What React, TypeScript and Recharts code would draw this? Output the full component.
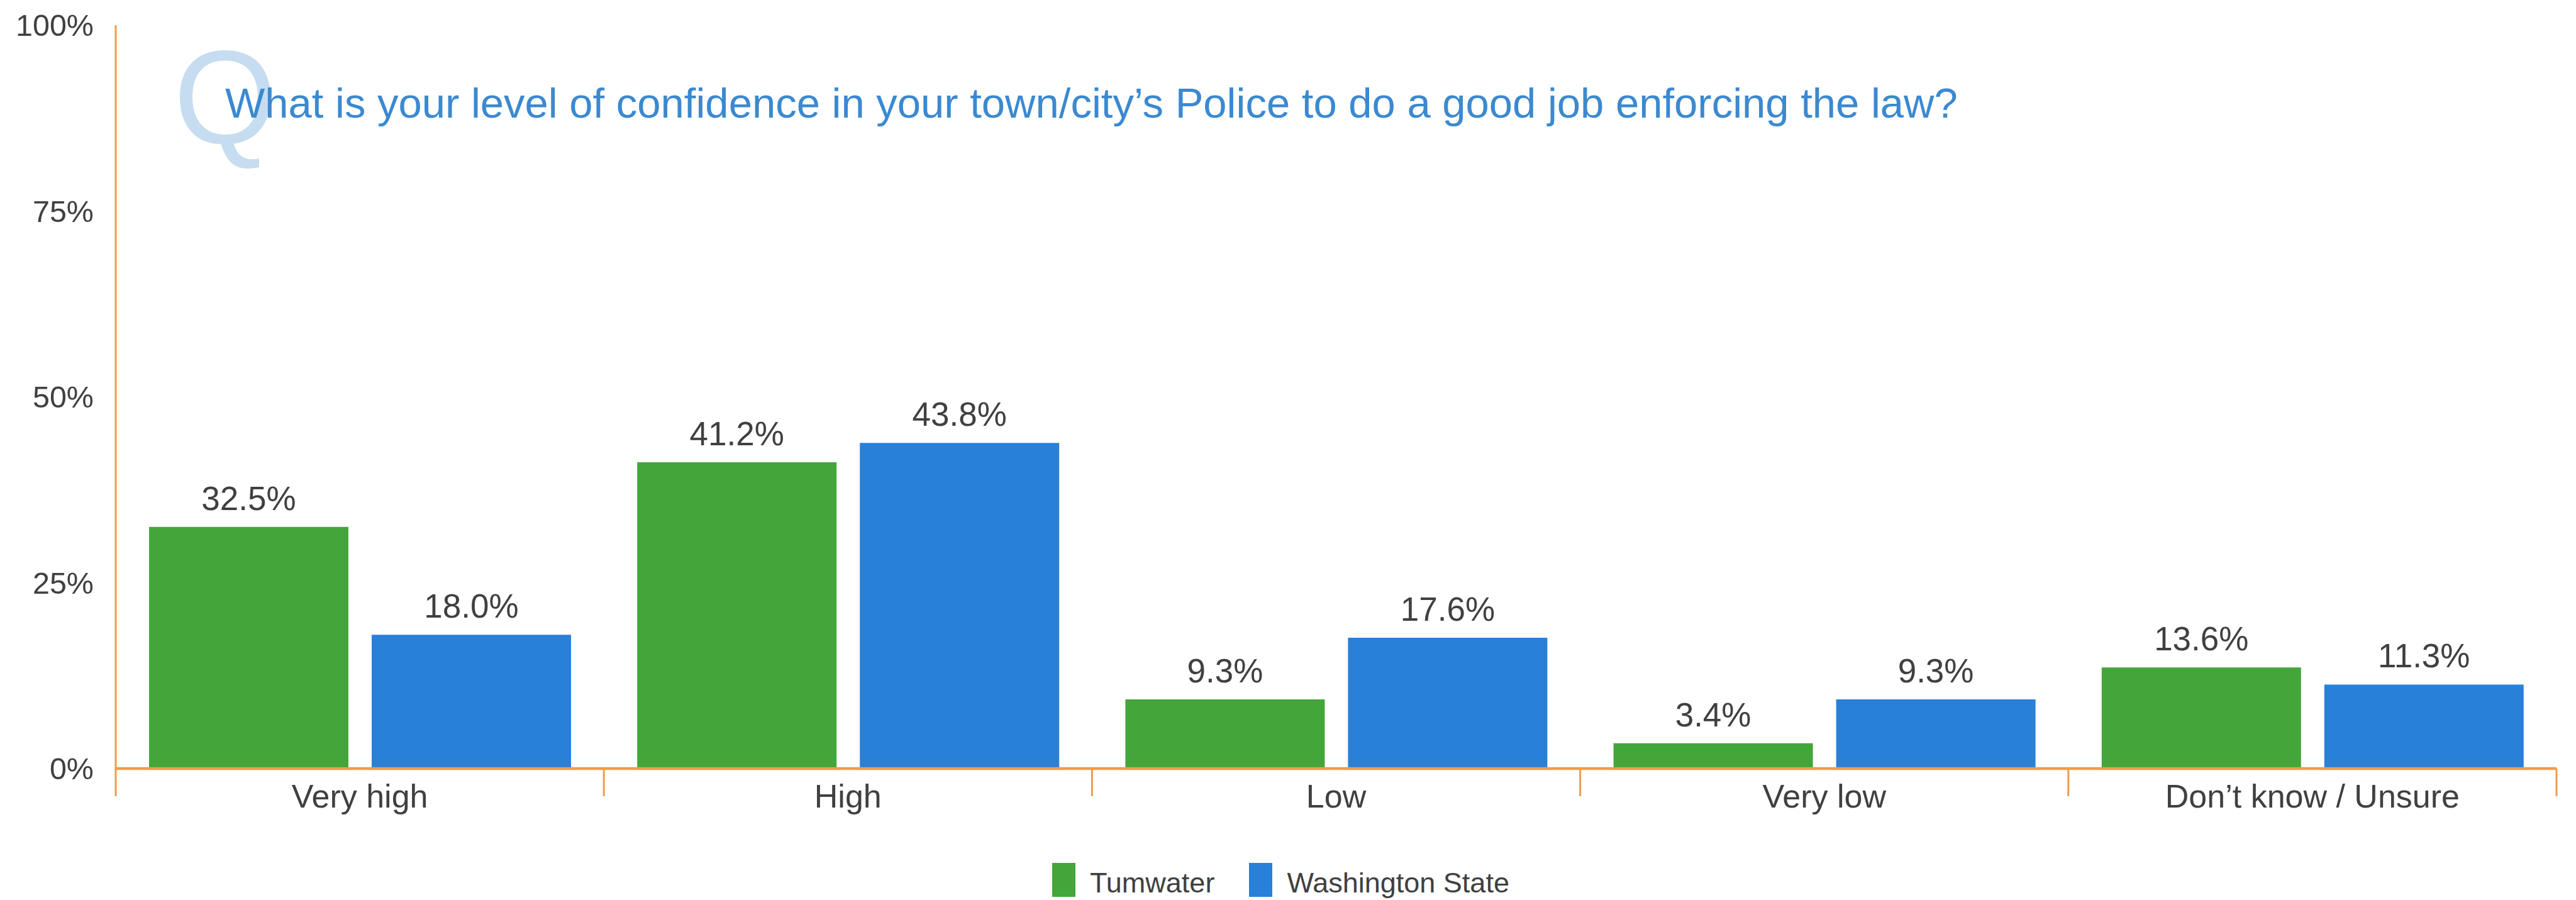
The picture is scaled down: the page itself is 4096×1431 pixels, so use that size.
import { BarChart, Bar, XAxis, YAxis, Legend, LabelList } from "recharts";

const categories = ["Very high", "High", "Low", "Very low", "Don’t know / Unsure"];
const tumwater = [32.5, 41.2, 9.3, 3.4, 13.6];
const washington = [18.0, 43.8, 17.6, 9.3, 11.3];
const yTicks = [0, 25, 50, 75, 100];

const FONT = "'Liberation Sans', Arial, sans-serif";
const ORANGE = "#ef9c4c";
const TEXT = "#404040";
const GREEN = "#43a63b";
const BLUE = "#2980d9";

const W = 4096;
const H = 1431;
const PLOT_LEFT = 184;
const PLOT_RIGHT = 4065;
const BAND = (PLOT_RIGHT - PLOT_LEFT) / categories.length;

const data = categories.map((name, i) => ({
  name,
  tumwater: tumwater[i],
  washington: washington[i],
}));

const XTick = (props: any) => {
  const { x, y, payload, index } = props;
  const last = index === categories.length - 1;
  return (
    <g>
      <line x1={x - BAND / 2} x2={x - BAND / 2} y1={y} y2={y + 44} stroke={ORANGE} strokeWidth={3} />
      {last && (
        <line x1={x + BAND / 2} x2={x + BAND / 2} y1={y} y2={y + 44} stroke={ORANGE} strokeWidth={3} />
      )}
      <text x={x} y={y + 62} textAnchor="middle" fill={TEXT} fontSize={52} fontFamily={FONT}>
        {payload.value}
      </text>
    </g>
  );
};

const valueLabel = (props: any) => {
  const { x, y, width, value } = props;
  return (
    <text x={x + width / 2} y={y - 27} textAnchor="middle" fill={TEXT} fontSize={53} fontFamily={FONT}>
      {Number(value).toFixed(1)}%
    </text>
  );
};

const LegendBox = (props: any) => {
  const items = props.payload || [];
  return (
    <div style={{ display: "flex", alignItems: "flex-end", paddingLeft: 1673, fontFamily: FONT }}>
      {items.map((it: any, i: number) => (
        <div key={i} style={{ display: "flex", alignItems: "flex-end", marginRight: 55 }}>
          <span style={{ display: "inline-block", width: 37, height: 54, background: it.color, marginRight: 23 }} />
          <span style={{ fontSize: 45, lineHeight: "45px", color: TEXT }}>{it.value}</span>
        </div>
      ))}
    </div>
  );
};

export default function App() {
  return (
    <div style={{ position: "absolute", left: 0, top: 0, width: W, height: H, background: "#fff" }}>
      <BarChart
        width={W}
        height={H}
        data={data}
        margin={{ top: 40, right: W - PLOT_RIGHT, left: 0, bottom: H - 1222 - 80 }}
        barCategoryGap={53}
        barGap={37}
      >
        <YAxis
          width={PLOT_LEFT}
          domain={[0, 100]}
          ticks={yTicks}
          tickFormatter={(v) => `${v}%`}
          tickLine={false}
          tickSize={0}
          tickMargin={35}
          axisLine={{ stroke: ORANGE, strokeWidth: 3 }}
          tick={{ fill: TEXT, fontSize: 48.5, fontFamily: FONT }}
        />
        <XAxis
          dataKey="name"
          height={80}
          tickLine={false}
          tickSize={0}
          tickMargin={0}
          interval={0}
          axisLine={{ stroke: ORANGE, strokeWidth: 4.5 }}
          tick={<XTick />}
        />
        <Legend
          verticalAlign="middle"
          layout="horizontal"
          align="center"
          content={<LegendBox />}
          wrapperStyle={{ top: 1372, left: 0, width: W }}
        />
        <Bar dataKey="tumwater" name="Tumwater" fill={GREEN} isAnimationActive={false}>
          <LabelList dataKey="tumwater" content={valueLabel} />
        </Bar>
        <Bar dataKey="washington" name="Washington State" fill={BLUE} isAnimationActive={false}>
          <LabelList dataKey="washington" content={valueLabel} />
        </Bar>
      </BarChart>
      <svg
        width={W}
        height={300}
        style={{ position: "absolute", left: 0, top: 0, pointerEvents: "none" }}
      >
        <text x={276} y={228} fontSize={211} fill="#c6dcf0" fontFamily={FONT}>
          Q
        </text>
        <text x={358} y={187} fontSize={67} fill="#3b89d0" fontFamily={FONT}>
          What is your level of confidence in your town/city’s Police to do a good job enforcing the law?
        </text>
      </svg>
    </div>
  );
}
